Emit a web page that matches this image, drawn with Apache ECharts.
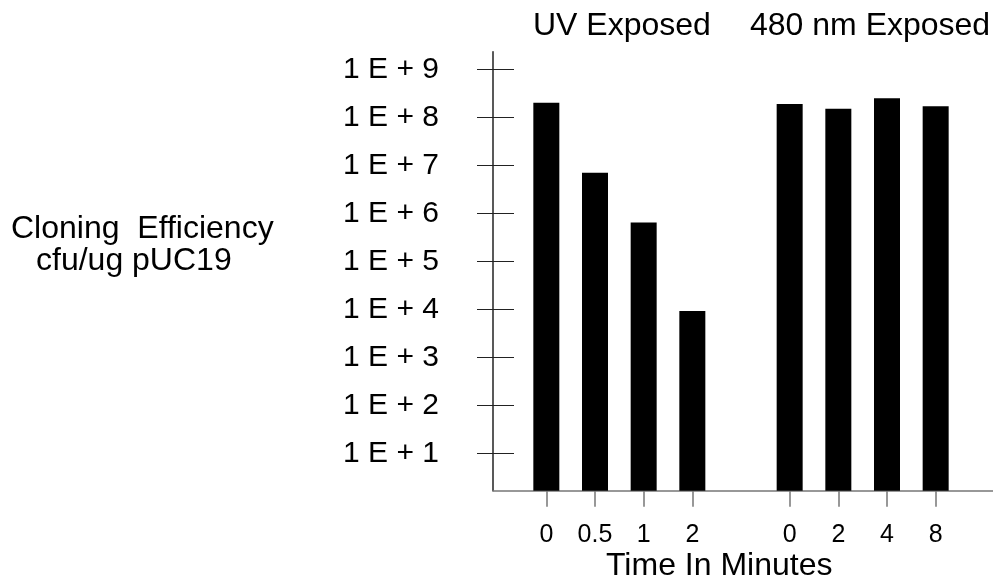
<!DOCTYPE html>
<html>
<head>
<meta charset="utf-8">
<script src="https://cdn.jsdelivr.net/npm/echarts@6/dist/echarts.min.js"></script>
<style>
html,body{margin:0;padding:0;background:#fff;}
#chart{width:993px;height:583px;}
</style>
</head>
<body>
<div id="chart"></div>
<script>
// Time points (minutes); '' is the gap between the two exposure groups
const categories = ['0', '0.5', '1', '2', '', '0', '2', '4', '8'];
// Cloning efficiency, cfu/ug pUC19
const efficiency = [2.0e8, 7.0e6, 6.4e5, 9.2e3, null, 1.9e8, 1.5e8, 2.5e8, 1.7e8];
// Y tick labels, exponent -> label
const yTickExponents = [1, 2, 3, 4, 5, 6, 7, 8, 9];
const yTickLabels = ['1 E + 1', '1 E + 2', '1 E + 3', '1 E + 4', '1 E + 5', '1 E + 6', '1 E + 7', '1 E + 8', '1 E + 9'];
const groupTitles = ['UV Exposed', '480 nm Exposed'];
const xTitle = 'Time In Minutes';
const yTitle = ['Cloning  Efficiency', 'cfu/ug pUC19'];

const FONT = 'Liberation Sans, Arial, Helvetica, sans-serif';
const chart = echarts.init(document.getElementById('chart'));

const option = {
  backgroundColor: '#fff',
  animation: false,
  grid: [
    // 0: bars
    { left: 522, right: 33, top: 51.7, bottom: 92.3 },
    // 1: y ticks + labels
    { left: 477, width: 37, top: 69.3, bottom: 129.7 },
    // 2: axis lines
    { left: 493, right: 0, top: 51.7, bottom: 92.3 }
  ],
  xAxis: [
    {
      gridIndex: 0, type: 'category', data: categories,
      axisLine: { show: false },
      axisTick: {
        show: true, alignWithLabel: true, length: 16,
        interval: function (i, v) { return v !== ''; },
        lineStyle: { color: '#777', width: 1.5 }
      },
      axisLabel: { margin: 32, color: '#000', fontSize: 25, fontFamily: FONT, interval: 0 },
      splitLine: { show: false }
    },
    { gridIndex: 1, type: 'value', show: false },
    {
      gridIndex: 2, type: 'value', min: 0, max: 1,
      axisLine: { show: true, onZero: false, lineStyle: { color: '#777', width: 1.5 } },
      axisTick: { show: false }, axisLabel: { show: false }, splitLine: { show: false }
    }
  ],
  yAxis: [
    {
      gridIndex: 0, type: 'log', logBase: 10,
      min: Math.pow(10, 0.221), max: Math.pow(10, 9.367),
      axisLine: { show: false }, axisTick: { show: false },
      axisLabel: { show: false }, splitLine: { show: false }
    },
    {
      gridIndex: 1, type: 'log', logBase: 10, min: 10, max: 1e9, splitNumber: 8,
      axisLine: { show: false }, axisTick: { show: false },
      axisLabel: {
        margin: 38, color: '#000', fontSize: 30, fontFamily: FONT,
        formatter: function (v) {
          const e = Math.round(Math.log10(v));
          const k = yTickExponents.indexOf(e);
          return k >= 0 ? yTickLabels[k] : '';
        }
      },
      splitLine: { show: true, lineStyle: { color: '#222', width: 1.2 } }
    },
    {
      gridIndex: 2, type: 'value', min: 0, max: 1,
      axisLine: { show: true, onZero: false, lineStyle: { color: '#222', width: 1.5 } },
      axisTick: { show: false }, axisLabel: { show: false }, splitLine: { show: false }
    }
  ],
  series: [
    {
      type: 'bar', xAxisIndex: 0, yAxisIndex: 0,
      data: efficiency, barWidth: 26, clip: true,
      itemStyle: { color: '#000' }
    }
  ],
  graphic: [
    { type: 'text', left: 533, top: 10, style: { text: groupTitles[0], font: '32px ' + FONT, fill: '#000' } },
    { type: 'text', left: 750, top: 10, style: { text: groupTitles[1], font: '32px ' + FONT, fill: '#000' } },
    { type: 'text', left: 606, top: 550, style: { text: xTitle, font: '32px ' + FONT, fill: '#000' } },
    { type: 'text', left: 11, top: 213, style: { text: yTitle[0], font: '32px ' + FONT, fill: '#000' } },
    { type: 'text', left: 36, top: 245, style: { text: yTitle[1], font: '32px ' + FONT, fill: '#000' } }
  ]
};
chart.setOption(option);
</script>
</body>
</html>
